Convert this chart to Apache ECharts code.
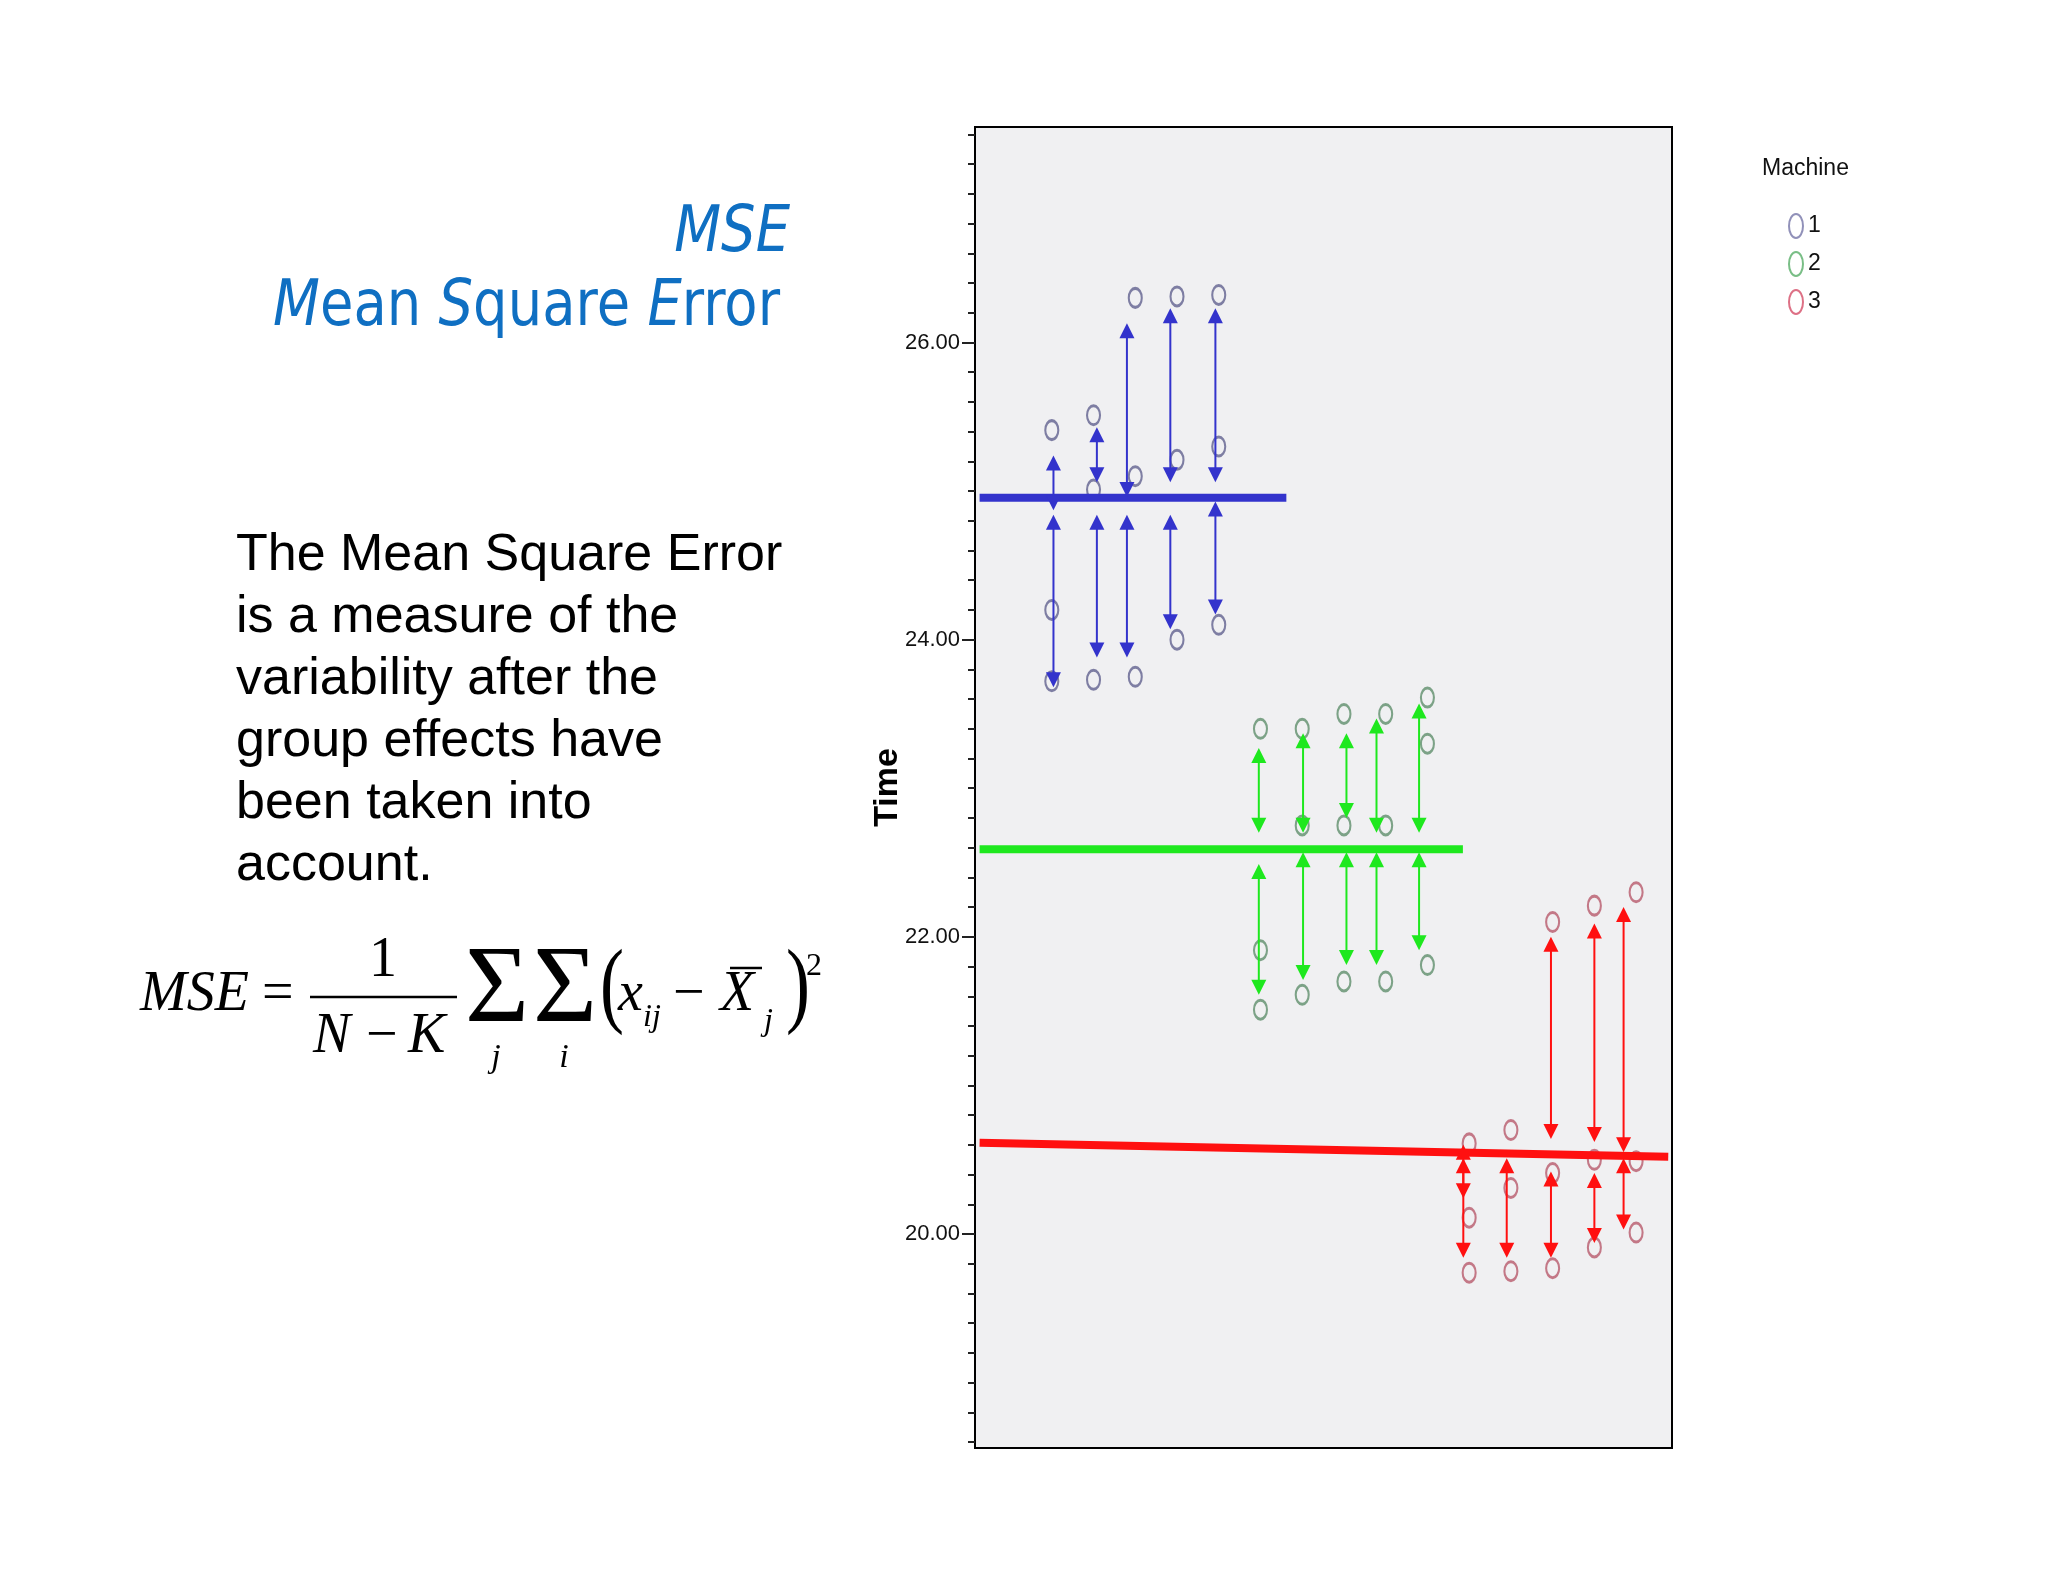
<!DOCTYPE html>
<html>
<head>
<meta charset="utf-8">
<title>MSE - Mean Square Error</title>
<script src="https://cdn.jsdelivr.net/npm/echarts@6/dist/echarts.min.js"></script>
<style>
  html, body { margin: 0; padding: 0; background: #fff; }
  #main { width: 2048px; height: 1582px; }
</style>
</head>
<body>
<div id="main"></div>
<script>
// points: case column (x) and Time (y) per machine
var machine1Case = [1, 1, 1, 2, 2, 2, 3, 3, 3, 4, 4, 4, 5, 5, 5];
var machine1Time = [25.41, 24.20, 23.72, 25.51, 25.01, 23.73, 26.30, 25.10, 23.75, 26.31, 25.21, 24.00, 26.32, 25.30, 24.10];
var machine2Case = [6, 6, 6, 7, 7, 7, 8, 8, 8, 9, 9, 9, 10, 10, 10];
var machine2Time = [23.40, 21.91, 21.51, 23.40, 22.75, 21.61, 23.50, 22.75, 21.70, 23.50, 22.75, 21.70, 23.61, 23.30, 21.81];
var machine3Case = [11, 11, 11, 12, 12, 12, 13, 13, 13, 14, 14, 14, 15, 15, 15];
var machine3Time = [20.61, 20.11, 19.74, 20.70, 20.31, 19.75, 22.10, 20.41, 19.77, 22.21, 20.50, 19.91, 22.30, 20.49, 20.01];

// group mean lines (start, end)
var mean1X = [-0.73, 6.62];
var mean1Y = [24.955, 24.955];
var mean2X = [-0.73, 10.85];
var mean2Y = [22.59, 22.59];
var mean3X = [-0.73, 15.77];
var mean3Y = [20.615, 20.52];

// deviation arrows: x, upper tip, lower tip
var arrows1X = [1.04, 1.04, 2.08, 2.08, 2.80, 2.80, 3.84, 3.84, 4.92, 4.92];
var arrows1Top = [25.24, 24.84, 25.43, 24.84, 26.13, 24.84, 26.23, 24.84, 26.23, 24.93];
var arrows1Bottom = [24.87, 23.68, 25.06, 23.88, 24.96, 23.88, 25.06, 24.07, 25.06, 24.17];
var arrows2X = [5.96, 5.96, 7.02, 7.02, 8.06, 8.06, 8.78, 8.78, 9.80, 9.80];
var arrows2Top = [23.27, 22.49, 23.37, 22.57, 23.37, 22.57, 23.47, 22.57, 23.57, 22.57];
var arrows2Bottom = [22.70, 21.61, 22.70, 21.71, 22.80, 21.81, 22.70, 21.81, 22.70, 21.91];
var arrows3X = [10.86, 10.86, 11.90, 12.96, 12.96, 14.00, 14.00, 14.70, 14.70];
var arrows3Top = [20.60, 20.51, 20.51, 22.00, 20.42, 22.09, 20.41, 22.20, 20.51];
var arrows3Bottom = [20.24, 19.84, 19.84, 20.64, 19.84, 20.62, 19.94, 20.55, 20.03];

// axis
var yTicks = [20, 22, 24, 26];
var yMin = 18.56, yMax = 27.45;
var yMinorTicks = [];
for (var t = 186; t <= 274; t += 2) yMinorTicks.push(t / 10);

var machineNames = ['1', '2', '3'];
var markerColors = ['#62628e', '#5f8e6c', '#b85a6c'];
var legendColors = ['#7676a8', '#58ae68', '#d44c66'];
var blue = '#3333cc', green = '#1ee81e', red = '#ff1010';

var labelFont = "'Liberation Sans Narrow', 'Liberation Sans', Arial, sans-serif";
var serifFont = "'Liberation Serif', 'Times New Roman', serif";
var sansFont = "'Liberation Sans', Arial, sans-serif";
var titleFont = "'DejaVu Sans', Verdana, sans-serif";
var titleColor = '#0f6fc2';
// tall oval like the SPSS "O" markers
var ovalIcon = 'path://M7,0 A7,12 0 1,1 7,24 A7,12 0 1,1 7,0 Z';

function pairs(xs, ys) {
  return xs.map(function (x, i) { return [x, ys[i]]; });
}

function pointSeries(idx, xs, ys) {
  return {
    name: machineNames[idx],
    type: 'scatter',
    symbol: 'circle',
    symbolSize: [13, 19],
    z: 2,
    itemStyle: { color: 'transparent', borderColor: markerColors[idx], borderWidth: 2.5 },
    data: pairs(xs, ys)
  };
}

function meanSeries(xs, ys, color) {
  return {
    type: 'line',
    silent: true,
    showSymbol: false,
    symbol: 'none',
    z: 3,
    lineStyle: { color: color, width: 8 },
    data: pairs(xs, ys)
  };
}

// double headed arrow between the two tips
function arrowSeries(xs, tops, bottoms, color) {
  return {
    type: 'custom',
    silent: true,
    z: 4,
    encode: { x: 0, y: [1, 2] },
    data: xs.map(function (x, i) { return [x, tops[i], bottoms[i]]; }),
    renderItem: function (params, api) {
      var a = api.coord([api.value(0), api.value(1)]);
      var b = api.coord([api.value(0), api.value(2)]);
      var hw = 7.5, hh = 15;
      return {
        type: 'group',
        children: [
          { type: 'line', shape: { x1: a[0], y1: a[1] + hh - 2, x2: b[0], y2: b[1] - hh + 2 }, style: { stroke: color, lineWidth: 2 } },
          { type: 'polygon', shape: { points: [[a[0], a[1]], [a[0] - hw, a[1] + hh], [a[0] + hw, a[1] + hh]] }, style: { fill: color } },
          { type: 'polygon', shape: { points: [[b[0], b[1]], [b[0] - hw, b[1] - hh], [b[0] + hw, b[1] - hh]] }, style: { fill: color } }
        ]
      };
    }
  };
}

// title line with italic capitals: measure each piece and place them one after another
var measureCtx = document.createElement('canvas').getContext('2d');
function titleLine(parts, rightX, y, size, squeeze) {
  var children = [];
  var pos = 0;
  parts.forEach(function (p) {
    var style = p.italic ? 'italic ' : '';
    measureCtx.font = style + size + 'px ' + titleFont;
    children.push({
      type: 'text', x: pos, y: 0,
      style: { text: p.text, fontSize: size, fontFamily: titleFont, fontStyle: p.italic ? 'italic' : 'normal', fill: titleColor, verticalAlign: 'middle' }
    });
    pos += measureCtx.measureText(p.text).width;
  });
  return { type: 'group', x: rightX - pos * squeeze, y: y, scaleX: squeeze, children: children };
}

function ftext(x, y, text, size, italic, align) {
  return {
    type: 'text', x: x, y: y,
    style: {
      text: text, fontSize: size, fontFamily: serifFont, fontStyle: italic ? 'italic' : 'normal',
      fill: '#000', align: align || 'left', verticalAlign: 'middle'
    }
  };
}

var myChart = echarts.init(document.getElementById('main'));

myChart.setOption({
  backgroundColor: '#ffffff',
  animation: false,
  title: {
    text: 'Machine',
    left: 1757,
    top: 152,
    textStyle: { fontFamily: labelFont, fontSize: 23, fontWeight: 'normal', color: '#111' }
  },
  legend: {
    orient: 'vertical',
    left: 1783,
    top: 208,
    itemWidth: 14,
    itemHeight: 24,
    itemGap: 12,
    textStyle: { fontFamily: labelFont, fontSize: 23, color: '#111' },
    data: machineNames.map(function (n, i) {
      return { name: n, icon: ovalIcon, itemStyle: { color: 'transparent', borderColor: legendColors[i], borderWidth: 2 } };
    })
  },
  grid: {
    left: 975,
    top: 127,
    width: 697,
    height: 1321,
    show: true,
    backgroundColor: '#f0f0f2',
    borderColor: '#000',
    borderWidth: 2
  },
  xAxis: { type: 'value', min: -0.84, max: 15.86, show: false },
  yAxis: [{
    type: 'value',
    min: yMin,
    max: yMax,
    position: 'left',
    name: 'Time',
    nameLocation: 'middle',
    nameRotate: 90,
    nameGap: 70,
    nameMoveOverlap: false,
    nameTextStyle: { fontFamily: sansFont, fontWeight: 'bold', fontSize: 34, color: '#000' },
    axisLine: { show: true, onZero: false, lineStyle: { color: '#000', width: 2 } },
    axisTick: { show: true, length: 13, customValues: yTicks, lineStyle: { color: '#222', width: 2 } },
    axisLabel: {
      customValues: yTicks, margin: 15, fontFamily: labelFont, fontSize: 22, color: '#111',
      formatter: function (v) { return v.toFixed(2); }
    },
    splitLine: { show: false }
  }, {
    type: 'value',
    min: yMin,
    max: yMax,
    position: 'left',
    axisLine: { show: false, onZero: false },
    axisTick: { show: true, length: 7, customValues: yMinorTicks, lineStyle: { color: '#222', width: 2 } },
    axisLabel: { show: false },
    splitLine: { show: false }
  }],
  series: [
    pointSeries(0, machine1Case, machine1Time),
    pointSeries(1, machine2Case, machine2Time),
    pointSeries(2, machine3Case, machine3Time),
    meanSeries(mean1X, mean1Y, blue),
    meanSeries(mean2X, mean2Y, green),
    meanSeries(mean3X, mean3Y, red),
    arrowSeries(arrows1X, arrows1Top, arrows1Bottom, blue),
    arrowSeries(arrows2X, arrows2Top, arrows2Bottom, green),
    arrowSeries(arrows3X, arrows3Top, arrows3Bottom, red)
  ],
  graphic: [
    // slide title
    titleLine([{ text: 'MSE', italic: true }], 790, 234, 64, 0.85),
    titleLine([
      { text: 'M', italic: true }, { text: 'ean ', italic: false },
      { text: 'S', italic: true }, { text: 'quare ', italic: false },
      { text: 'E', italic: true }, { text: 'rror', italic: false }
    ], 780, 308, 64, 0.85),
    // body text
    {
      type: 'text', x: 236, y: 525,
      style: {
        text: 'The Mean Square Error\nis a measure of the\nvariability after the\ngroup effects have\nbeen taken into\naccount.',
        fontSize: 52, lineHeight: 62, fontFamily: sansFont, fill: '#000', verticalAlign: 'top'
      }
    },
    // formula
    ftext(140, 995, 'MSE', 56, true),
    ftext(262, 995, '=', 56, false),
    { type: 'line', shape: { x1: 310, y1: 997, x2: 457, y2: 997 }, style: { stroke: '#000', lineWidth: 2.5 } },
    ftext(383, 961, '1', 56, false, 'center'),
    ftext(313, 1037, 'N', 56, true),
    ftext(366, 1037, '−', 56, false),
    ftext(408, 1037, 'K', 56, true),
    ftext(497, 992, 'Σ', 110, false, 'center'),
    ftext(565, 992, 'Σ', 110, false, 'center'),
    ftext(496, 1058, 'j', 34, true, 'center'),
    ftext(564, 1058, 'i', 34, true, 'center'),
    { type: 'text', x: 600, y: 990, scaleX: 0.75, style: { text: '(', fontSize: 96, fontFamily: serifFont, fill: '#000', verticalAlign: 'middle' } },
    ftext(618, 995, 'x', 56, true),
    ftext(643, 1018, 'ij', 32, true),
    ftext(673, 995, '−', 56, false),
    ftext(720, 995, 'X', 56, true),
    { type: 'line', shape: { x1: 730, y1: 968, x2: 762, y2: 968 }, style: { stroke: '#000', lineWidth: 2.5 } },
    ftext(764, 1022, 'j', 32, true),
    { type: 'text', x: 786, y: 990, scaleX: 0.75, style: { text: ')', fontSize: 96, fontFamily: serifFont, fill: '#000', verticalAlign: 'middle' } },
    ftext(806, 967, '2', 32, false)
  ]
});
</script>
</body>
</html>
